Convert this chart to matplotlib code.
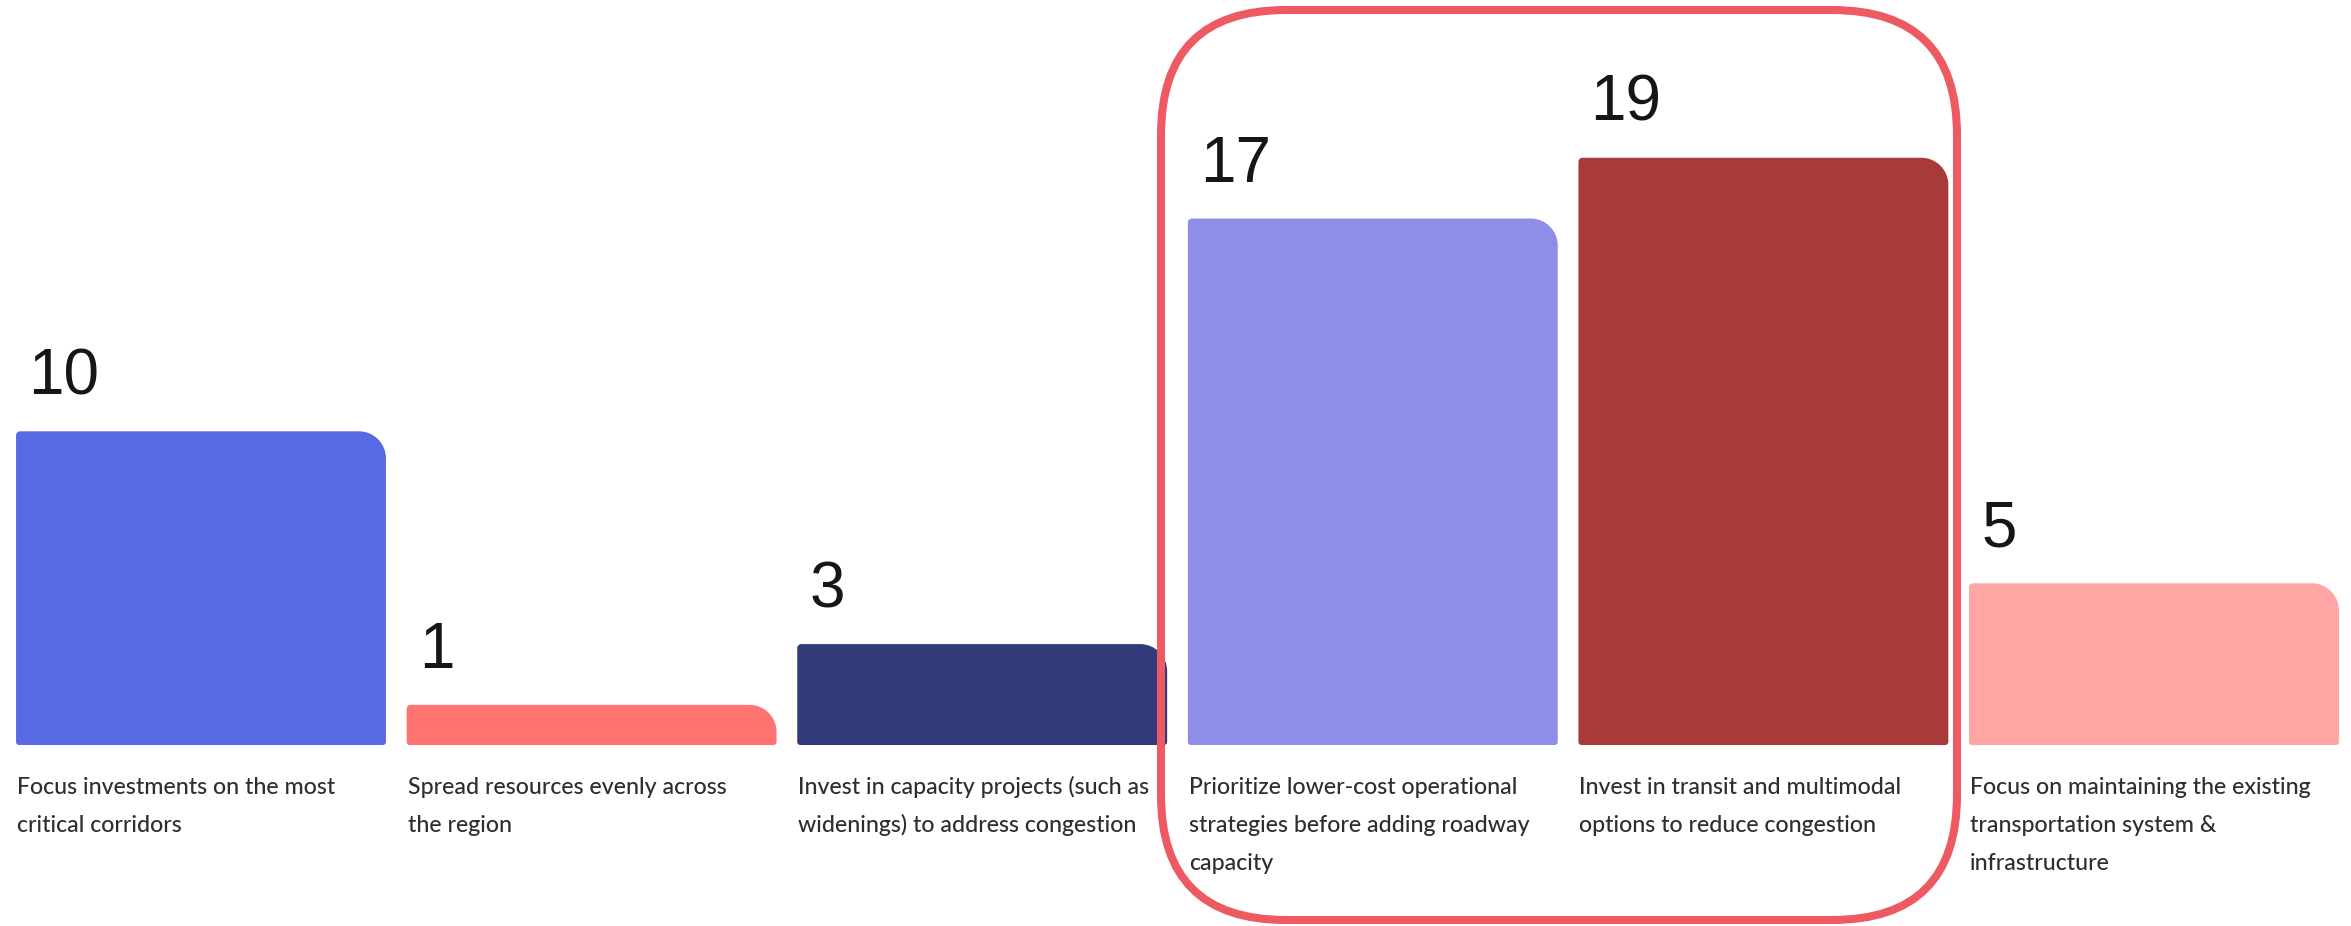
import matplotlib
matplotlib.use("Agg")
import matplotlib.pyplot as plt
from matplotlib.path import Path
from matplotlib.patches import PathPatch, FancyBboxPatch

# ---------------- data ----------------
categories = [
    "Focus investments on the most\ncritical corridors",
    "Spread resources evenly across\nthe region",
    "Invest in capacity projects (such as\nwidenings) to address congestion",
    "Prioritize lower-cost operational\nstrategies before adding roadway\ncapacity",
    "Invest in transit and multimodal\noptions to reduce congestion",
    "Focus on maintaining the existing\ntransportation system &\ninfrastructure",
]
values = [10, 1, 3, 17, 19, 5]
colors = ["#5869E5", "#FF7370", "#323B7A", "#8E8DE8", "#A83B3A", "#FFA5A3"]
highlight = [3, 4]

# ---------------- layout / style ----------------
W, H, DPI = 2351, 926, 100
fig = plt.figure(figsize=(W / DPI, H / DPI), dpi=DPI)
fig.patch.set_facecolor("white")

ax_left_px, ax_right_px = 5.7, 2349.3
ax_bottom_px = 181          # from figure bottom
ax = fig.add_axes([ax_left_px / W, ax_bottom_px / H,
                   (ax_right_px - ax_left_px) / W, (H - ax_bottom_px) / H])
BASE = -0.32
ax.set_xlim(-0.5, len(values) - 0.5)
ax.set_ylim(BASE, 24.19)
ax.axis("off")

bar_w = 0.947
bars = ax.bar(range(len(values)), [v - BASE for v in values], bottom=BASE,
              width=bar_w, color=colors)

sx = (ax_right_px - ax_left_px) / len(values)      # px per x unit
sy = (H - ax_bottom_px) / (24.19 - BASE)           # px per y unit


def rounded_path(x0, y0, x1, y1, radii):
    bl, br, tr, tl = radii
    k = 0.5523
    blx, bly = bl / sx, bl / sy
    brx, bry = br / sx, br / sy
    trx, try_ = tr / sx, tr / sy
    tlx, tly = tl / sx, tl / sy
    v = [(x0 + blx, y0), (x1 - brx, y0),
         (x1 - brx + k * brx, y0), (x1, y0 + bry - k * bry), (x1, y0 + bry),
         (x1, y1 - try_),
         (x1, y1 - try_ + k * try_), (x1 - trx + k * trx, y1), (x1 - trx, y1),
         (x0 + tlx, y1),
         (x0 + tlx - k * tlx, y1), (x0, y1 - tly + k * tly), (x0, y1 - tly),
         (x0, y0 + bly),
         (x0, y0 + bly - k * bly), (x0 + blx - k * blx, y0), (x0 + blx, y0),
         (x0 + blx, y0)]
    c = [Path.MOVETO, Path.LINETO,
         Path.CURVE4, Path.CURVE4, Path.CURVE4,
         Path.LINETO,
         Path.CURVE4, Path.CURVE4, Path.CURVE4,
         Path.LINETO,
         Path.CURVE4, Path.CURVE4, Path.CURVE4,
         Path.LINETO,
         Path.CURVE4, Path.CURVE4, Path.CURVE4,
         Path.CLOSEPOLY]
    return Path(v, c)


for rect, col in zip(bars.patches, colors):
    x0, y0 = rect.get_x(), rect.get_y()
    x1, y1 = x0 + rect.get_width(), y0 + rect.get_height()
    rect.set_visible(False)
    ax.add_patch(PathPatch(rounded_path(x0, y0, x1, y1, (3, 3, 27, 4)),
                           facecolor=col, edgecolor="none"))

# value labels
for rect, v in zip(bars.patches, values):
    ax.annotate(str(v), xy=(rect.get_x(), v), xytext=(12, 37),
                textcoords="offset pixels", ha="left", va="baseline",
                fontsize=46, family="Liberation Sans", color="#161616",
                annotation_clip=False)

# category labels
for rect, lab in zip(bars.patches, categories):
    for j, line in enumerate(lab.split("\n")):
        ax.annotate(line, xy=(rect.get_x(), BASE), xytext=(1, -49 - 38 * j),
                    textcoords="offset pixels", ha="left", va="baseline",
                    fontsize=16.7, family="Lato", color="#2e2e2e",
                    fontweight="medium", annotation_clip=False)

# highlight box (pixel overlay)
ov = fig.add_axes([0, 0, 1, 1], facecolor="none")
ov.set_xlim(0, W)
ov.set_ylim(H, 0)
ov.axis("off")
box = FancyBboxPatch((1161, 10), 796, 910,
                     boxstyle="round,pad=0,rounding_size=125",
                     facecolor="none", edgecolor="#EE5A62", linewidth=5.8)
ov.add_patch(box)

fig.savefig("out.png", dpi=DPI, facecolor="white")
